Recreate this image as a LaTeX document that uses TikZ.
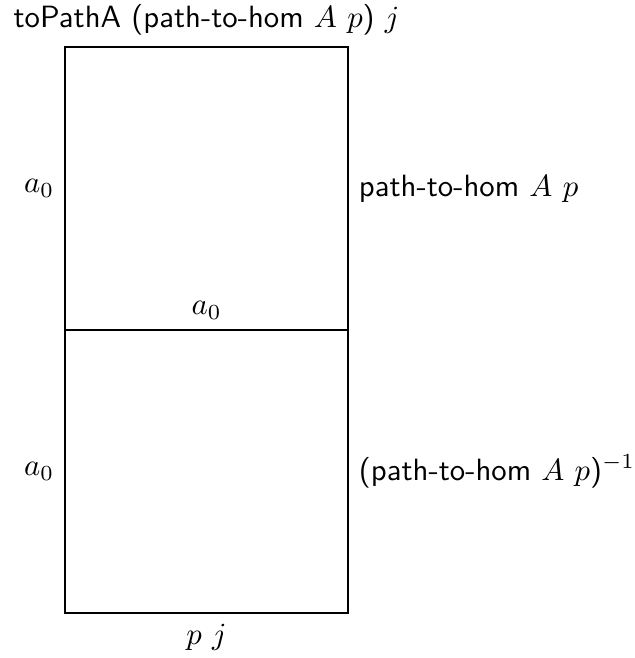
\documentclass[tikz,border=0pt]{standalone}
\usetikzlibrary{positioning}

\begin{document}
\begin{tikzpicture}
    \useasboundingbox (-0.743,-0.514) rectangle (6.504,7.007);

    % Corners of the two stacked squares
    \coordinate (bl) at (0,0);
    \coordinate (br) at (3.235,0);
    \coordinate (ml) at (0,3.235);
    \coordinate (mr) at (3.235,3.235);
    \coordinate (tl) at (0,6.47);
    \coordinate (tr) at (3.235,6.47);

    % Upper square
    \draw (ml) rectangle (tr);
    % Lower square
    \draw (bl) rectangle (mr);

    % Label over the whole diagram
    \node[anchor=base west, inner sep=0pt] (top) at (-0.594,6.687) {\textsf{toPathA (path-to-hom $A$ $p$) $j$}};

    % Labels of the upper square
    \node[left] (upleft) at (0,4.853) {$a_0$};
    \node[right] (upright) at (3.235,4.853) {\textsf{path-to-hom $A$ $p$}};
    \node[above] (middle) at (1.618,3.235) {$a_0$};

    % Labels of the lower square
    \node[left] (lowleft) at (0,1.618) {$a_0$};
    \node[right] (lowright) at (3.235,1.618) {\textsf{(path-to-hom $A$ $p$)$^{-1}$}};
    \node[below] (bottom) at (1.618,0) {$p$ $j$};

\end{tikzpicture}
\end{document}
